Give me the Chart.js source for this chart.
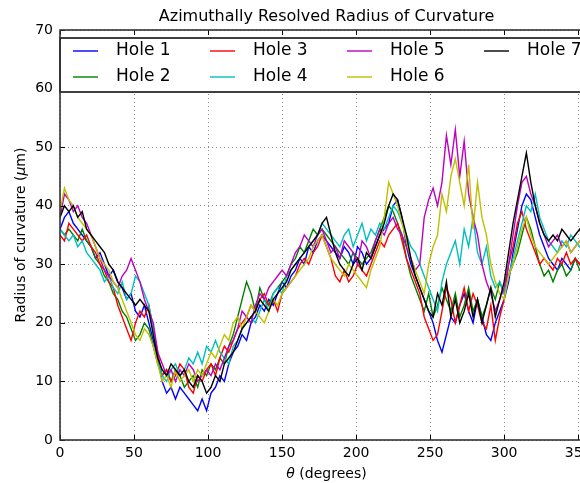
<!DOCTYPE html>
<html lang="en">
<head>
    <meta charset="UTF-8">
    <title>Azimuthally Resolved Radius of Curvature</title>
    <script src="https://cdn.jsdelivr.net/npm/chart.js"></script>
    <style>
        html, body {
            margin: 0;
            padding: 0;
            background: #ffffff;
            overflow: hidden;
        }
        .chart-wrapper {
            width: 600px;
            height: 483px;
        }
    </style>
</head>
<body>
    <div class="chart-wrapper">
        <canvas id="curvatureChart" width="600" height="483"></canvas>
    </div>

    <script>
        // angle in degrees
        const theta = [
            0, 3, 6, 9, 12, 15, 18, 21, 24, 27, 30,
            33, 36, 39, 42, 45, 48, 51, 54, 57, 60,
            63, 66, 69, 72, 75, 78, 81, 84, 87, 90,
            93, 96, 99, 102, 105, 108, 111, 114, 117, 120,
            123, 126, 129, 132, 135, 138, 141, 144, 147, 150,
            153, 156, 159, 162, 165, 168, 171, 174, 177, 180,
            183, 186, 189, 192, 195, 198, 201, 204, 207, 210,
            213, 216, 219, 222, 225, 228, 231, 234, 237, 240,
            243, 246, 249, 252, 255, 258, 261, 264, 267, 270,
            273, 276, 279, 282, 285, 288, 291, 294, 297, 300,
            303, 306, 309, 312, 315, 318, 321, 324, 327, 330,
            333, 336, 339, 342, 345, 348, 351, 354, 357, 360
        ];
        const xTicks = [0, 50, 100, 150, 200, 250, 300, 350];
        const yTicks = [0, 10, 20, 30, 40, 50, 60, 70];

        const holeNames = ['Hole 1', 'Hole 2', 'Hole 3', 'Hole 4', 'Hole 5', 'Hole 6', 'Hole 7'];
        const holeColors = ['#0000ff', '#008000', '#ff0000', '#00bfbf', '#bf00bf', '#bfbf00', '#000000'];

        // radius of curvature (um)
        const hole1 = [
            36, 38, 39, 37, 36, 35, 34, 33, 31, 32, 30,
            28, 29, 27, 26, 24, 25, 22, 21, 23, 20,
            17, 14, 10, 8, 9, 7, 9, 8, 7, 6,
            5, 7, 5, 8, 9, 11, 10, 13, 15, 16,
            18, 17, 20, 21, 23, 22, 24, 23, 25, 27,
            26, 28, 29, 31, 30, 33, 32, 34, 35, 34,
            33, 32, 31, 33, 32, 30, 33, 32, 30, 31,
            33, 35, 36, 37, 40, 41, 38, 33, 30, 28,
            26, 24, 22, 20, 17, 15, 18, 21, 20, 23,
            25, 22, 20, 24, 21, 18, 17, 20, 22, 24,
            27, 32, 36, 40, 42, 41, 38, 35, 33, 31,
            30, 29, 31, 30, 29, 31, 30, 29, 30, 31
        ];
        const hole2 = [
            36, 35, 36, 35, 34, 36, 34, 33, 31, 30, 28,
            27, 25, 24, 22, 21, 19, 17, 18, 20, 19,
            16, 13, 11, 12, 10, 12, 11, 9, 10, 11,
            9, 12, 11, 13, 12, 14, 13, 16, 18, 21,
            24, 27, 25, 22, 26, 24, 23, 25, 26, 27,
            28, 30, 31, 33, 32, 34, 36, 35, 36, 35,
            34, 33, 32, 31, 30, 32, 31, 30, 31, 32,
            34, 36, 38, 40, 39, 37, 35, 31, 28, 26,
            24, 22, 25, 21, 23, 26, 24, 22, 25, 21,
            23, 26, 22, 24, 21, 23, 26, 24, 27, 25,
            28, 30, 32, 35, 38, 36, 33, 30, 28, 29,
            27, 29, 30, 28, 29, 31, 29, 30, 31, 30
        ];
        const hole3 = [
            35, 34, 37, 36, 35, 34, 35, 33, 32, 30, 29,
            27, 26, 23, 21, 19, 17, 20, 22, 21, 23,
            19, 15, 11, 12, 10, 11, 13, 12, 9, 8,
            11, 10, 12, 13, 11, 14, 16, 15, 17, 19,
            20, 21, 23, 22, 24, 25, 23, 24, 22, 25,
            26, 27, 28, 30, 31, 30, 32, 33, 35, 33,
            31, 28, 27, 29, 27, 28, 30, 29, 28, 30,
            32, 34, 33, 35, 36, 37, 34, 31, 29, 27,
            25, 21, 19, 17, 18, 22, 26, 24, 20, 23,
            26, 22, 25, 23, 20, 19, 23, 17, 21, 24,
            30, 33, 37, 39, 36, 34, 32, 30, 31, 30,
            29, 31, 30, 32, 30, 31, 30, 32, 31, 30
        ];
        const hole4 = [
            36, 35, 34, 35, 33, 34, 32, 31, 30, 29, 27,
            28, 26, 25, 27, 24, 25, 28, 27, 25, 23,
            19, 14, 11, 10, 12, 13, 11, 12, 14, 13,
            15, 13, 16, 15, 17, 15, 14, 13, 16, 17,
            19, 20, 21, 20, 22, 24, 22, 25, 26, 25,
            28, 29, 30, 31, 32, 33, 34, 35, 37, 36,
            35, 34, 33, 35, 36, 33, 35, 37, 34, 36,
            35, 37, 36, 38, 40, 39, 37, 35, 33, 32,
            30, 28, 26, 24, 22, 27, 30, 32, 34, 30,
            36, 33, 38, 32, 30, 33, 28, 26, 27, 25,
            28, 31, 34, 37, 40, 39, 42, 38, 36, 34,
            33, 32, 34, 33, 35, 34, 33, 32, 33, 34
        ];
        const hole5 = [
            38, 42, 41, 39, 40, 38, 37, 35, 33, 31, 29,
            28, 27, 26, 28, 29, 31, 29, 27, 24, 22,
            20, 15, 13, 11, 12, 10, 12, 11, 13, 12,
            10, 11, 12, 11, 13, 12, 14, 16, 17, 19,
            22, 21, 20, 23, 25, 24, 26, 27, 28, 29,
            28, 30, 32, 33, 35, 34, 33, 35, 36, 34,
            32, 33, 31, 34, 33, 32, 30, 34, 33, 31,
            34, 36, 35, 37, 38, 36, 35, 33, 31, 29,
            30, 38, 41, 43, 40, 44, 52, 47, 53, 45,
            51, 42, 38, 35, 30, 27, 25, 22, 24, 26,
            30, 35, 40, 44, 45, 42, 40, 37, 35, 33,
            34, 35, 33, 34, 32, 33, 34, 33, 32, 33
        ];
        const hole6 = [
            39, 43, 41, 40, 38, 37, 36, 35, 33, 31, 30,
            29, 27, 26, 24, 22, 20, 18, 17, 19, 18,
            16, 13, 10, 11, 9, 12, 10, 11, 12, 10,
            12, 11, 13, 15, 14, 16, 18, 17, 20, 21,
            19, 21, 23, 22, 21, 20, 22, 24, 23, 25,
            26, 27, 28, 29, 30, 31, 33, 34, 35, 33,
            31, 30, 29, 28, 30, 29, 28, 27, 26, 29,
            31, 33, 38, 44, 42, 40, 37, 34, 31, 29,
            27, 25, 30, 33, 35, 42, 39, 45, 48, 44,
            40, 47, 36, 44, 38, 35, 30, 27, 25, 24,
            28, 30, 33, 36, 38, 35, 33, 32, 31, 30,
            31, 32, 33, 34, 32, 33, 34, 33, 32, 33
        ];
        const hole7 = [
            38, 40, 39, 40, 38, 39, 36, 35, 34, 33, 32,
            30, 29, 27, 26, 25, 24, 23, 24, 23, 22,
            18, 14, 12, 11, 13, 12, 11, 12, 10, 9,
            11, 10, 8, 9, 11, 10, 13, 14, 15, 17,
            19, 20, 21, 22, 24, 23, 22, 24, 25, 26,
            27, 29, 30, 31, 32, 33, 34, 35, 37, 38,
            35, 32, 30, 29, 28, 30, 31, 29, 32, 31,
            33, 35, 37, 40, 42, 41, 38, 35, 31, 28,
            26, 24, 22, 21, 25, 23, 27, 21, 24, 20,
            22, 25, 21, 24, 20, 23, 26, 21, 24, 27,
            32, 37, 41, 45, 49, 44, 40, 37, 35, 34,
            35, 34, 36, 35, 34, 35, 36, 34, 35, 34
        ];

        const holes = [hole1, hole2, hole3, hole4, hole5, hole6, hole7];
        const FONT = '"DejaVu Sans", Arial, sans-serif';

        // frame, inward tick marks, axis titles and the boxed legend (matplotlib look)
        const decorPlugin = {
            id: 'decor',
            afterDraw(chart) {
                const ctx = chart.ctx;
                const a = chart.chartArea;
                const xs = chart.scales.x;
                const ys = chart.scales.y;
                ctx.save();

                // ticks pointing inward
                ctx.strokeStyle = '#000';
                ctx.lineWidth = 1;
                xTicks.forEach(v => {
                    const px = Math.round(xs.getPixelForValue(v)) + 0.5;
                    ctx.beginPath();
                    ctx.moveTo(px, a.bottom); ctx.lineTo(px, a.bottom - 5);
                    ctx.moveTo(px, a.top); ctx.lineTo(px, a.top + 5);
                    ctx.stroke();
                });
                yTicks.forEach(v => {
                    const py = Math.round(ys.getPixelForValue(v)) + 0.5;
                    ctx.beginPath();
                    ctx.moveTo(a.left, py); ctx.lineTo(a.left + 5, py);
                    ctx.moveTo(a.right, py); ctx.lineTo(a.right - 5, py);
                    ctx.stroke();
                });

                // legend box spanning the axes width
                const top = 38, bottom = 92;
                ctx.fillStyle = '#fff';
                ctx.fillRect(a.left, top, a.right - a.left, bottom - top);
                ctx.strokeStyle = '#000';
                ctx.lineWidth = 1.5;
                ctx.strokeRect(a.left, top, a.right - a.left, bottom - top);

                ctx.font = '17px ' + FONT;
                ctx.textBaseline = 'middle';
                ctx.textAlign = 'left';
                chart.data.datasets.forEach((ds, i) => {
                    const col = Math.floor(i / 2);
                    const row = i % 2;
                    const x0 = a.left + 13 + col * 137;
                    const y0 = 51 + row * 26;
                    ctx.strokeStyle = ds.borderColor;
                    ctx.lineWidth = 1.4;
                    ctx.beginPath();
                    ctx.moveTo(x0, y0); ctx.lineTo(x0 + 25, y0);
                    ctx.stroke();
                    ctx.fillStyle = '#000';
                    ctx.fillText(ds.label, x0 + 43, y0);
                });

                // frame
                ctx.strokeStyle = '#333';
                ctx.lineWidth = 1.6;
                ctx.strokeRect(a.left, a.top, a.right - a.left, a.bottom - a.top);

                // axis titles with italic math symbols
                ctx.fillStyle = '#000';
                ctx.textBaseline = 'middle';
                const yParts = [['Radius of curvature (', ''], ['\u03bc', 'italic '], ['m)', '']];
                const xParts = [['\u03b8', 'italic '], [' (degrees)', '']];
                const widthOf = parts => parts.reduce((w, p) => {
                    ctx.font = p[1] + '14px ' + FONT;
                    return w + ctx.measureText(p[0]).width;
                }, 0);

                ctx.save();
                ctx.translate(21, (a.top + a.bottom) / 2);
                ctx.rotate(-Math.PI / 2);
                let cx = -widthOf(yParts) / 2;
                yParts.forEach(p => {
                    ctx.font = p[1] + '14px ' + FONT;
                    ctx.fillText(p[0], cx, 0);
                    cx += ctx.measureText(p[0]).width;
                });
                ctx.restore();

                cx = (a.left + a.right) / 2 - widthOf(xParts) / 2;
                xParts.forEach(p => {
                    ctx.font = p[1] + '14px ' + FONT;
                    ctx.fillText(p[0], cx, 474);
                    cx += ctx.measureText(p[0]).width;
                });

                ctx.restore();
            }
        };

        const ctx = document.getElementById('curvatureChart').getContext('2d');
        new Chart(ctx, {
            type: 'line',
            data: {
                datasets: holes.map((vals, i) => ({
                    label: holeNames[i],
                    data: vals.map((v, j) => ({ x: theta[j], y: v })),
                    borderColor: holeColors[i],
                    backgroundColor: holeColors[i],
                    borderWidth: 1.4,
                    pointRadius: 0,
                    tension: 0,
                    fill: false,
                    order: holes.length - i
                }))
            },
            options: {
                responsive: false,
                animation: false,
                layout: {
                    padding: { left: 0, right: 7, top: 0, bottom: 0 }
                },
                plugins: {
                    legend: { display: false },
                    tooltip: { enabled: false },
                    title: {
                        display: true,
                        text: 'Azimuthally Resolved Radius of Curvature',
                        fullSize: false,
                        color: '#000',
                        font: { family: FONT, size: 16, weight: 'normal' },
                        padding: { top: 7, bottom: 3.8 }
                    }
                },
                scales: {
                    x: {
                        type: 'linear',
                        min: 0,
                        max: 360,
                        afterFit(scale) { scale.height = 43; },
                        afterBuildTicks(scale) { scale.ticks = xTicks.map(v => ({ value: v })); },
                        ticks: {
                            padding: 5,
                            color: '#000',
                            autoSkip: false,
                            maxRotation: 0,
                            font: { family: FONT, size: 14 }
                        },
                        grid: {
                            color: 'rgba(0, 0, 0, 0.45)',
                            drawTicks: false
                        },
                        border: { display: false, dash: [1, 3] }
                    },
                    y: {
                        min: 0,
                        max: 70,
                        afterFit(scale) { scale.width = 60; },
                        afterBuildTicks(scale) { scale.ticks = yTicks.map(v => ({ value: v })); },
                        ticks: {
                            padding: 7,
                            color: '#000',
                            font: { family: FONT, size: 14 }
                        },
                        grid: {
                            color: 'rgba(0, 0, 0, 0.45)',
                            drawTicks: false
                        },
                        border: { display: false, dash: [1, 3] }
                    }
                }
            },
            plugins: [decorPlugin]
        });
    </script>
</body>
</html>
